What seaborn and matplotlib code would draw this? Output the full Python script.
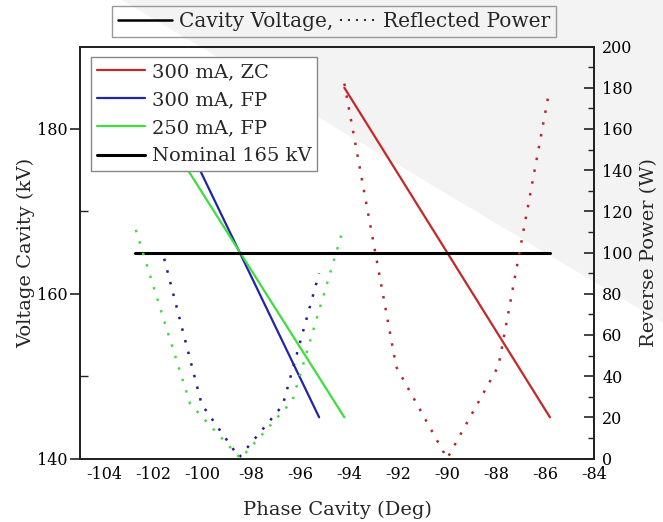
import numpy as np
import pandas as pd
import matplotlib
matplotlib.use("Agg")
import matplotlib.pyplot as plt
import seaborn as sns
from matplotlib.lines import Line2D
from matplotlib.patches import Polygon
from matplotlib.ticker import MultipleLocator, FixedLocator

# ---------------- data ----------------
series_labels = ["300 mA, ZC", "300 mA, FP", "250 mA, FP"]
series_colors = ["#c42828", "#2424a8", "#3ede3e"]
power_colors = ["#b02a2a", "#20208c", "#4ad84a"]

# cavity voltage (kV) vs phase (deg)
volt_phase_zc300 = [-94.2, -85.8]
volt_kv_zc300 = [185, 145]
volt_phase_fp300 = [-101.56, -95.23]
volt_kv_fp300 = [184, 145]
volt_phase_fp250 = [-102.72, -94.2]
volt_kv_fp250 = [185, 145]

nominal_label = "Nominal 165 kV"
nominal_phase = [-102.75, -85.8]
nominal_kv = [165, 165]

# reflected power (W) vs phase (deg)
pow_phase_zc300 = [-94.2, -92.08, -90.0, -87.9, -85.85]
pow_w_zc300 = [182, 44.5, 0, 45, 177]
pow_phase_fp300 = [-101.56, -100.03, -98.5, -96.72, -95.23]
pow_w_fp300 = [97, 26.3, 0.5, 25.8, 90]
pow_phase_fp250 = [-102.72, -100.5, -98.44, -96.32, -94.27]
pow_w_fp250 = [111, 26.5, 0, 28.1, 110.5]

x_ticks = [-104, -102, -100, -98, -96, -94, -92, -90, -88, -86, -84]
left_ticks = [140, 160, 180]
right_ticks = [0, 20, 40, 60, 80, 100, 120, 140, 160, 180, 200]

# ---------------- style ----------------
sns.set_style("white")
plt.rcParams["font.family"] = ["DejaVu Serif"]
plt.rcParams["axes.unicode_minus"] = False
plt.rcParams["mathtext.fontset"] = "dejavuserif"

W, H = 663, 522
fig = plt.figure(figsize=(W / 100, H / 100), dpi=100)
fig.patch.set_facecolor("white")

# light grey diagonal background band
tri = Polygon([(122 / W, 1.0), (1.0, 1.0), (1.0, 1 - 323 / H)], closed=True,
              transform=fig.transFigure, facecolor="#f3f3f3", edgecolor="none", zorder=-5)
fig.add_artist(tri)

ax = fig.add_axes([80 / W, 1 - 458.5 / H, (594 - 80) / W, (458.5 - 46.5) / H])
ax.set_facecolor("none")
ax2 = ax.twinx()
ax2.set_facecolor("none")

volt_sets = [(volt_phase_zc300, volt_kv_zc300), (volt_phase_fp300, volt_kv_fp300),
             (volt_phase_fp250, volt_kv_fp250)]
pow_sets = [(pow_phase_zc300, pow_w_zc300), (pow_phase_fp300, pow_w_fp300),
            (pow_phase_fp250, pow_w_fp250)]

for (px, vy), lab, c in zip(volt_sets, series_labels, series_colors):
    sns.lineplot(x=px, y=vy, ax=ax, color=c, linewidth=1.6, label=lab, legend=False)
sns.lineplot(x=nominal_phase, y=nominal_kv, ax=ax, color="black", linewidth=2.2,
             label=nominal_label, legend=False)

for (px, py), c in zip(pow_sets, power_colors):
    sns.lineplot(x=px, y=py, ax=ax2, color=c, linewidth=1.8,
                 linestyle=(0, (1, 3.8)), legend=False)

# ---------------- axes ----------------
ax.set_xlim(-105, -84)
ax.set_ylim(140, 190)
ax2.set_ylim(0, 200)
ax.xaxis.set_major_locator(FixedLocator(x_ticks))
ax.xaxis.set_minor_locator(MultipleLocator(1))
ax.yaxis.set_major_locator(FixedLocator(left_ticks))
ax.yaxis.set_minor_locator(FixedLocator([150, 170]))
ax2.yaxis.set_major_locator(FixedLocator(right_ticks))
ax2.yaxis.set_minor_locator(MultipleLocator(10))

for a in (ax, ax2):
    for s in a.spines.values():
        s.set_linewidth(1.3)
        s.set_color("#222222")

ax.tick_params(axis="x", which="major", direction="in", length=7, width=1.2,
               labelsize=11.5, pad=5.5, colors="#222222", labelcolor="black")
ax.tick_params(axis="x", which="minor", direction="in", length=4, width=1.0, colors="#222222")
ax.tick_params(axis="y", which="major", direction="out", length=7, width=1.2,
               labelsize=11.5, pad=2, colors="#222222", labelcolor="black")
ax.tick_params(axis="y", which="minor", direction="in", length=6, width=1.0, colors="#222222")
ax2.tick_params(axis="y", which="major", direction="in", length=7, width=1.2,
                labelsize=11.5, pad=6, colors="#222222", labelcolor="black")
ax2.tick_params(axis="y", which="minor", direction="in", length=4, width=1.0, colors="#222222")

ax.set_xlabel("Phase Cavity (Deg)", fontsize=14, labelpad=13)
ax.set_ylabel("Voltage Cavity (kV)", fontsize=14, labelpad=1)
ax2.set_ylabel("Reverse Power (W)", fontsize=14, labelpad=5)

# ---------------- legends ----------------
h, l = ax.get_legend_handles_labels()
leg_in = ax2.legend(h, l, loc="upper left", fontsize=14, frameon=True, fancybox=False,
                    edgecolor="#888888", framealpha=1, facecolor="white",
                    handlelength=2.5, handletextpad=0.35, labelspacing=0.52,
                    borderpad=0.3, borderaxespad=0.55)
leg_in.get_frame().set_linewidth(1.0)

top_handles = [Line2D([], [], color="black", linewidth=1.8),
               Line2D([], [], color="#333333", linewidth=1.5,
                      linestyle=(0, (0, 8.6, 1, 2.85, 1, 2.85, 1, 2.85, 1, 2.85, 1, 30)))]
leg_top = fig.legend(top_handles, ["Cavity Voltage,", "Reflected Power"],
                     loc="upper left", bbox_to_anchor=(112 / W, 1 - 6 / H),
                     ncol=2, fontsize=14.5, frameon=True, fancybox=False,
                     handlelength=2.7, handletextpad=0.35, columnspacing=-0.6,
                     borderpad=0.3, borderaxespad=0)
fr = leg_top.get_frame()
fr.set_alpha(None)
fr.set_facecolor((1, 1, 1, 0))
fr.set_edgecolor("#999999")
fr.set_linewidth(1.0)

fig.savefig("out.png", dpi=100, facecolor="white")
